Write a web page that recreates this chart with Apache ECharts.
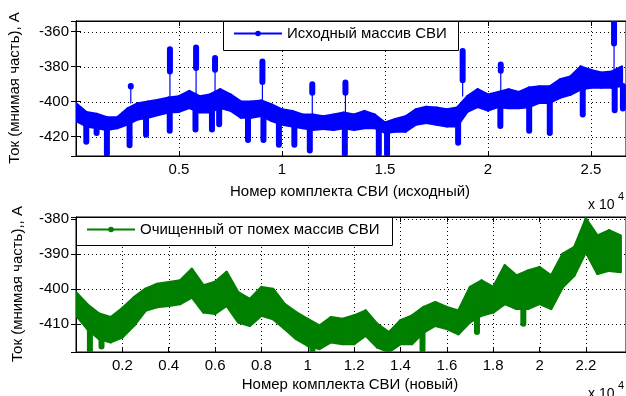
<!DOCTYPE html>
<html>
<head>
<meta charset="utf-8">
<script src="https://cdn.jsdelivr.net/npm/echarts@6/dist/echarts.min.js"></script>
<style>
  html, body { margin: 0; padding: 0; background: #fff; }
  #chart { width: 626px; height: 396px; }
</style>
</head>
<body>
<div id="chart"></div>
<script>
// upper plot: raw array, envelope every 500 samples
var topStep = 500;
var topHi = [-401, -406, -407, -409, -409, -404, -401, -400, -399, -397.7, -397, -394, -397, -396, -393, -396, -400, -400,
  -399.5, -401.7, -404.5, -405.5, -407.5, -407.5, -408.5, -407.5, -406.3, -407.5, -405.5, -407.5, -412, -410, -408.5, -404.5,
  -403, -403.5, -404.5, -403.5, -397, -393, -396, -394.6, -393, -394.6, -392, -391.4, -391.4, -387.4, -385.7, -380, -382,
  -383.5, -383, -380];
var topLo = [-411, -414, -415, -416, -415, -413, -410, -409, -407.5, -406, -405.7, -403.5, -406, -406, -403.5, -405, -409, -409,
  -408, -411, -413, -414, -415, -416, -415.5, -416, -415, -416, -415, -415, -417.7, -417, -417, -413, -412, -413, -414, -414,
  -405.7, -403, -405, -403, -403.6, -403.6, -403, -400.6, -400.6, -397.7, -396, -393, -392, -392, -392, -391];
// spikes: [sample, from, to]
var topStems = [[2660, -401, -391], [4560, -398, -375], [5830, -396, -375], [6750, -395, -378], [9050, -399, -380],
  [11470, -407, -392], [13080, -406, -392], [18770, -397, -380], [20620, -394, -380], [26120, -383, -360]];
// marker clusters: [sample, low, high]
var topBlobs = [[2660, -392.5, -390], [4560, -384, -369], [5830, -382, -368], [6750, -383, -374], [9050, -390, -376],
  [11470, -396, -389], [13080, -396, -388], [18770, -389, -370], [20620, -383.5, -377.7], [26120, -368, -354],
  [500, -424, -410], [1000, -419, -412], [1500, -431, -412], [2600, -426, -410], [3400, -420, -406], [4550, -417.7, -404],
  [5800, -417, -402], [6600, -417, -404], [6950, -414, -402], [8350, -423, -406], [9100, -423, -406], [9850, -425.7, -410],
  [10600, -425.7, -412], [11350, -429, -412], [13050, -431, -412], [14700, -431, -412], [15100, -431, -414],
  [18550, -424.6, -410], [20600, -415, -402], [22000, -417.7, -401], [23000, -419, -398], [24600, -408.5, -392],
  [26150, -406, -390], [26550, -405, -390]];
var topXTicks = [5000, 10000, 15000, 20000, 25000];
var topYTicks = [-420, -400, -380, -360];
var topXRange = [0, 26700];
var topYRange = [-431, -354];

// lower plot: cleaned array
var botStep = 500;
var botHi = [-401, -404.5, -407.1, -408.1, -405.5, -402.4, -400, -398.6, -398.1, -397.6, -394.3, -399, -398, -395.2, -401,
  -402.9, -399.5, -400, -404.3, -406.7, -408.6, -410.5, -408.1, -408.6, -407.6, -406.2, -410, -412.4, -409, -407.6, -405.2,
  -403.8, -405.2, -406.2, -399.5, -397.6, -399.5, -393.3, -396.2, -394.8, -393.8, -396.2, -390, -388.1, -380, -384.8,
  -383.3, -384.8];
var botLo = [-407.5, -411.5, -414.3, -415.2, -413.8, -410.5, -406.2, -405.2, -404.8, -404.3, -402.4, -406.7, -407.1, -404.8,
  -409.5, -410.5, -407.6, -408.6, -411.4, -414.3, -416.2, -417.1, -415.2, -415.7, -415.7, -413.3, -416.7, -418, -415.7,
  -415.7, -412.4, -410.5, -411.4, -412.9, -409.5, -407.6, -406.7, -404.3, -405.7, -405.7, -404.3, -405.7, -399.5, -396.2,
  -389.5, -395.7, -394.8, -395.2];
var botBlobs = [[600, -418.5, -408], [1100, -417, -410], [10200, -418, -410], [14950, -418, -410], [17300, -412.9, -405],
  [19300, -410.5, -402]];
var botXTicks = [2000, 4000, 6000, 8000, 10000, 12000, 14000, 16000, 18000, 20000, 22000];
var botYTicks = [-410, -400, -390, -380];
var botXRange = [0, 23730];
var botYRange = [-418, -379.5];

var topName = 'Исходный массив СВИ';
var botName = 'Очищенный от помех массив СВИ';
var blue = '#0000ff';
var green = '#007f00';
var font = "'Liberation Sans', Arial, sans-serif";

function bandData(step, lo, hi) {
  var out = [];
  for (var i = 0; i < lo.length - 1; i++) {
    out.push([i * step, lo[i], hi[i], (i + 1) * step, lo[i + 1], hi[i + 1]]);
  }
  return out;
}

// each grid line as [x1, y1, x2, y2] in data units
function gridData(xs, ys, xr, yr) {
  var out = [];
  xs.forEach(function (v) { out.push([v, yr[0], v, yr[1]]); });
  ys.forEach(function (v) { out.push([xr[0], v, xr[1], v]); });
  return out;
}

function gridRender(params, api) {
  var a = api.coord([api.value(0), api.value(1)]);
  var b = api.coord([api.value(2), api.value(3)]);
  var vertical = api.value(0) === api.value(2);
  var x1 = a[0], y1 = a[1], x2 = b[0], y2 = b[1];
  if (vertical) { x1 = x2 = Math.round(a[0]) + 0.5; } else { y1 = y2 = Math.round(a[1]) + 0.5; }
  return {
    type: 'line',
    shape: { x1: x1, y1: y1, x2: x2, y2: y2 },
    style: { stroke: '#000', lineWidth: 1, lineDash: [1, 3] }
  };
}

function bandRender(color) {
  return function (params, api) {
    var a = api.coord([api.value(0), api.value(2)]);
    var b = api.coord([api.value(3), api.value(5)]);
    var c = api.coord([api.value(3), api.value(4)]);
    var d = api.coord([api.value(0), api.value(1)]);
    return {
      type: 'polygon',
      shape: { points: [a, b, c, d] },
      style: { fill: color, stroke: color, lineWidth: 2.5, lineJoin: 'round' }
    };
  };
}

function stemRender(color) {
  return function (params, api) {
    var a = api.coord([api.value(0), api.value(1)]);
    var b = api.coord([api.value(0), api.value(2)]);
    return {
      type: 'line',
      shape: { x1: a[0], y1: a[1], x2: b[0], y2: b[1] },
      style: { stroke: color, lineWidth: 1.2 }
    };
  };
}

function blobRender(color) {
  return function (params, api) {
    var a = api.coord([api.value(0), api.value(2)]);
    var b = api.coord([api.value(0), api.value(1)]);
    return {
      type: 'rect',
      shape: { x: a[0] - 2, y: a[1], width: 4, height: b[1] - a[1], r: 2 },
      style: { fill: color, stroke: color, lineWidth: 2 }
    };
  };
}

function xLabel(step, max) {
  return function (v) {
    if (v === 0 || v % step !== 0 || v >= max) return '';
    return String(v / 1e4);
  };
}

function yLabel(step) {
  return function (v) {
    if (Math.abs(v % step) > 1e-6) return '';
    return String(v);
  };
}

function tickIn() {
  return { show: true, inside: true, length: 5, lineStyle: { color: '#000' } };
}
function lbl(extra) {
  return Object.assign({ color: '#000', fontSize: 15, fontFamily: font }, extra);
}

function mainX(grid, range, interval) {
  return {
    gridIndex: grid, type: 'value', position: 'bottom', min: range[0], max: range[1], interval: interval,
    axisLine: { show: true, lineStyle: { color: '#000' } }, axisTick: tickIn(), splitLine: { show: false },
    axisLabel: lbl({ margin: 6, showMaxLabel: false, formatter: xLabel(interval, range[1]) })
  };
}
function sideX(grid, range, interval) {
  return {
    gridIndex: grid, type: 'value', position: 'top', min: range[0], max: range[1], interval: interval,
    axisLine: { show: true, lineStyle: { color: '#000' } }, axisTick: tickIn(), splitLine: { show: false },
    axisLabel: { show: false }
  };
}
function mainY(grid, range, splitNumber, step) {
  return {
    gridIndex: grid, type: 'value', position: 'left', min: range[0], max: range[1], splitNumber: splitNumber,
    axisLine: { show: true, lineStyle: { color: '#000' } }, axisTick: tickIn(), splitLine: { show: false },
    axisLabel: lbl({ margin: 7, showMinLabel: false, showMaxLabel: false, formatter: yLabel(step) })
  };
}
function sideY(grid, range, splitNumber) {
  return {
    gridIndex: grid, type: 'value', position: 'right', min: range[0], max: range[1], splitNumber: splitNumber,
    axisLine: { show: true, lineStyle: { color: '#000' } }, axisTick: tickIn(), splitLine: { show: false },
    axisLabel: { show: false }
  };
}

var chart = echarts.init(document.getElementById('chart'));

var option = {
  animation: false,
  grid: [
    { left: 76, top: 21, width: 550, height: 135, show: true, backgroundColor: 'transparent', borderColor: '#000', borderWidth: 1 },
    { left: 76, top: 217, width: 550, height: 135, show: true, backgroundColor: 'transparent', borderColor: '#000', borderWidth: 1 }
  ],
  xAxis: [
    mainX(0, topXRange, 5000), sideX(0, topXRange, 5000),
    mainX(1, botXRange, 2000), sideX(1, botXRange, 2000)
  ],
  yAxis: [
    mainY(0, topYRange, 4, 20), sideY(0, topYRange, 4),
    mainY(1, botYRange, 4, 10), sideY(1, botYRange, 4)
  ],
  legend: [
    {
      data: [topName], left: 233, top: 26, padding: 0, itemWidth: 48, itemHeight: 7, z: 5,
      textStyle: { color: '#000', fontSize: 15, fontFamily: font }
    },
    {
      data: [botName], left: 86, top: 222, padding: 0, itemWidth: 48, itemHeight: 7, z: 5,
      textStyle: { color: '#000', fontSize: 15, fontFamily: font }
    }
  ],
  graphic: [
    { type: 'rect', z: 4, shape: { x: 223.5, y: 21.5, width: 235, height: 29 }, style: { fill: '#fff', stroke: '#000', lineWidth: 1 } },
    { type: 'rect', z: 4, shape: { x: 76.5, y: 217.5, width: 316, height: 28 }, style: { fill: '#fff', stroke: '#000', lineWidth: 1 } },
    { type: 'text', x: 350, y: 192, style: { text: 'Номер комплекта СВИ (исходный)', align: 'center', verticalAlign: 'middle', font: '15px ' + font, fill: '#000' } },
    { type: 'text', x: 350, y: 385, style: { text: 'Номер комплекта СВИ (новый)', align: 'center', verticalAlign: 'middle', font: '15px ' + font, fill: '#000' } },
    { type: 'text', x: 15, y: 88, rotation: Math.PI / 2, style: { text: 'Ток (мнимая часть), А', align: 'center', verticalAlign: 'middle', font: '15px ' + font, fill: '#000' } },
    { type: 'text', x: 18, y: 284, rotation: Math.PI / 2, style: { text: 'Ток (мнимая часть),, А', align: 'center', verticalAlign: 'middle', font: '15px ' + font, fill: '#000' } },
    { type: 'text', x: 588, y: 205, style: { text: 'x 10', align: 'left', verticalAlign: 'middle', font: '14px ' + font, fill: '#000' } },
    { type: 'text', x: 618, y: 197, style: { text: '4', align: 'left', verticalAlign: 'middle', font: '11px ' + font, fill: '#000' } },
    { type: 'text', x: 588, y: 394, style: { text: 'x 10', align: 'left', verticalAlign: 'middle', font: '14px ' + font, fill: '#000' } },
    { type: 'text', x: 618, y: 386, style: { text: '4', align: 'left', verticalAlign: 'middle', font: '11px ' + font, fill: '#000' } }
  ],
  series: [
    {
      name: topName, type: 'line', xAxisIndex: 0, yAxisIndex: 0, data: [],
      symbol: 'circle', symbolSize: 5, itemStyle: { color: blue }, lineStyle: { color: blue, width: 1 }
    },
    {
      name: botName, type: 'line', xAxisIndex: 2, yAxisIndex: 2, data: [],
      symbol: 'circle', symbolSize: 5, itemStyle: { color: green }, lineStyle: { color: green, width: 1 }
    },
    {
      name: 'topGrid', type: 'custom', xAxisIndex: 0, yAxisIndex: 0, z: 2, silent: true, clip: true,
      renderItem: gridRender, data: gridData(topXTicks, topYTicks, topXRange, topYRange)
    },
    {
      name: 'botGrid', type: 'custom', xAxisIndex: 2, yAxisIndex: 2, z: 2, silent: true, clip: true,
      renderItem: gridRender, data: gridData(botXTicks, botYTicks, botXRange, botYRange)
    },
    {
      name: 'topBand', type: 'custom', xAxisIndex: 0, yAxisIndex: 0, clip: true, z: 3,
      renderItem: bandRender(blue), data: bandData(topStep, topLo, topHi)
    },
    {
      name: 'topStems', type: 'custom', xAxisIndex: 0, yAxisIndex: 0, clip: true, z: 3,
      renderItem: stemRender(blue), data: topStems
    },
    {
      name: 'topBlobs', type: 'custom', xAxisIndex: 0, yAxisIndex: 0, clip: true, z: 3,
      renderItem: blobRender(blue), data: topBlobs
    },
    {
      name: 'botBand', type: 'custom', xAxisIndex: 2, yAxisIndex: 2, clip: true, z: 3,
      renderItem: bandRender(green), data: bandData(botStep, botLo, botHi)
    },
    {
      name: 'botBlobs', type: 'custom', xAxisIndex: 2, yAxisIndex: 2, clip: true, z: 3,
      renderItem: blobRender(green), data: botBlobs
    }
  ]
};
chart.setOption(option);
</script>
</body>
</html>
